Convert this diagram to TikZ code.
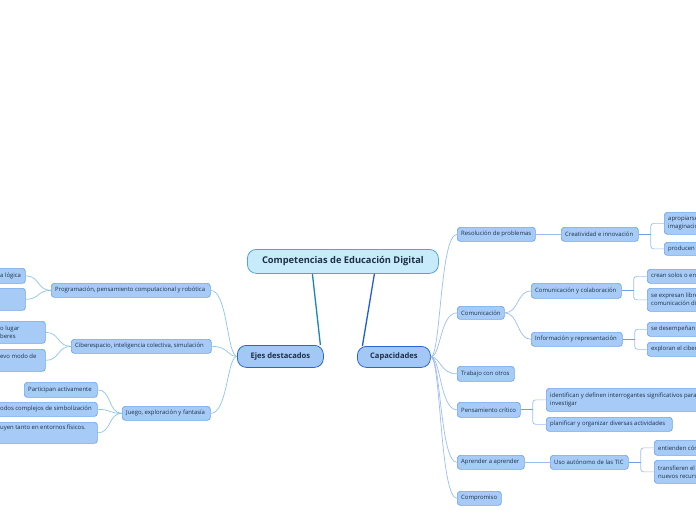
\documentclass[tikz,border=0pt]{standalone}
\usepackage{fontspec}
\setmainfont{Open Sans}
\begin{document}
\begin{tikzpicture}[x=1pt,y=-1pt,
  box/.style={draw=boxline,fill=boxfill,rounded corners=3pt,line width=0.7pt,inner sep=0pt},
  rootbox/.style={draw=rootline,fill=rootfill,rounded corners=9pt,line width=0.8pt,inner sep=0pt},
  mainbox/.style={draw=mainline,fill=mainfill,rounded corners=9pt,line width=0.8pt,inner sep=0pt},
  txt/.style={inner sep=0pt,font=\fontsize{5.95}{8}\selectfont,text=txtcol,align=left},
  lconn/.style={draw=lcol,line width=0.7pt},
  rconn/.style={draw=rcol,line width=0.7pt},
  stub/.style={draw=stubcol,line width=1.1pt},
  brk/.style={draw=rcol,line width=0.7pt,rounded corners=3pt}]
\definecolor{boxfill}{HTML}{A6CBF6}
\definecolor{boxline}{HTML}{6FA5EA}
\definecolor{rootfill}{HTML}{C8EBFC}
\definecolor{rootline}{HTML}{4DA6DA}
\definecolor{mainfill}{HTML}{A4C8F5}
\definecolor{mainline}{HTML}{2767D2}
\definecolor{txtcol}{HTML}{1D3047}
\definecolor{lcol}{HTML}{8DC6E8}
\definecolor{rcol}{HTML}{9DBEF2}
\definecolor{stubcol}{HTML}{6E9FE6}
\definecolor{tealcol}{HTML}{1A86B8}
\definecolor{bluecol}{HTML}{1F5ED6}
\newcommand\bx[7]{%
  \pgfmathsetmacro\bw{#5-#3}\pgfmathsetmacro\bh{#6-#4}%
  \node[#1,minimum width=\bw pt,minimum height=\bh pt,anchor=north west] (#2) at (#3,#4) {};%
  \node[txt,anchor=west] (#2t) at ([xshift=4pt]#2.west) {#7};}
\useasboundingbox (0,0) rectangle (696,520);
\clip (0,0) rectangle (696,520);
\fill[white] (0,0) rectangle (696,520);

% root and main nodes
\node[rootbox,minimum width=191pt,minimum height=24pt,anchor=north west] (root) at (247,249) {};
\node[font=\fontsize{9.3}{11}\selectfont\bfseries,text=txtcol,inner sep=0pt] (roott) at (root.center) {Competencias de Educación Digital};
\node[mainbox,minimum width=86pt,minimum height=22pt,anchor=north west] (ejes) at (237,345) {};
\node[font=\fontsize{7.6}{9}\selectfont\bfseries,text=txtcol,inner sep=0pt] (ejest) at (ejes.center) {Ejes destacados};
\node[mainbox,minimum width=73pt,minimum height=21pt,anchor=north west] (cap) at (357,346) {};
\node[font=\fontsize{7.6}{9}\selectfont\bfseries,text=txtcol,inner sep=0pt] (capt) at (cap.center) {Capacidades};

\draw[draw=tealcol,line width=1.3pt] ([xshift=-30.5pt]root.south) -- ([xshift=40pt]ejes.north);
\draw[draw=bluecol,line width=1.3pt] ([xshift=31.5pt]root.south) -- ([xshift=-31.5pt]cap.north);

% left side
\bx{box}{prog}{51}{283}{210}{297}{Programación, pensamiento computacional y robótica}
\bx{box}{la}{-60}{268}{25}{283}{}
\node[txt,anchor=west] (lat) at (0,275.5) {a lógica};
\bx{box}{lb}{-60}{288}{25}{310}{}
\bx{box}{cib}{71}{339}{211}{353}{Ciberespacio, inteligencia colectiva, simulación}
\bx{box}{lc}{-60}{321}{45}{343}{}
\node[txt,anchor=west] (lct) at (0,332) {o lugar\\beres};
\bx{box}{ld}{-60}{349}{45}{371}{}
\node[txt,anchor=west] (ldt) at (0,356) {evo modo de};
\bx{box}{jue}{122}{406}{210}{420}{Juego, exploración y fantasía}
\bx{box}{par}{24}{382}{97}{397}{Participan activamente}
\bx{box}{le}{-60}{402}{97}{416}{}
\node[txt,anchor=west] (let) at (0,409) {odos complejos de simbolización};
\bx{box}{lf}{-60}{422}{97}{443}{}
\node[txt,anchor=west] (lft) at (0,428) {uyen tanto en entornos físicos.};

\foreach \n in {prog,cib,jue}
  \draw[lconn] (ejes.west) .. controls ([xshift=-10pt]ejes.west) and ([xshift=17pt]\n.east|-\n.east) .. (\n.east);
\foreach \p/\c in {prog/la,prog/lb,cib/lc,cib/ld,jue/par,jue/le,jue/lf}
  \draw[lconn] (\p.west) .. controls ([xshift=-14pt]\p.west) and ([xshift=14pt]\c.east) .. (\c.east);

% right side
\bx{box}{res}{457}{227}{535}{241}{Resolución de problemas}
\bx{box}{cre}{561}{227}{638}{241}{Creatividad e innovación}
\bx{box}{apr}{664}{212}{760}{234}{apropiarse de la\\imaginación}
\bx{box}{pro}{664}{242}{760}{255}{producen}
\bx{box}{com}{457}{306}{504}{319}{Comunicación}
\bx{box}{cyc}{531}{283}{621}{298}{Comunicación y colaboración}
\bx{box}{crg}{647}{269}{760}{283}{crean solos o en grupo}
\bx{box}{sex}{647}{288}{760}{311}{se expresan libremente\\comunicación digital}
\bx{box}{inf}{531}{332}{622}{346}{Información y representación}
\bx{box}{sed}{647}{322}{760}{336}{se desempeñan}
\bx{box}{exp}{647}{342}{760}{356}{exploran el ciberespacio}
\bx{box}{tra}{457}{366}{514}{381}{Trabajo con otros}
\bx{box}{pen}{457}{402}{520}{417}{Pensamiento crítico}
\bx{box}{ide}{546}{388}{760}{411}{identifican y definen interrogantes significativos para\\investigar}
\bx{box}{pla}{546}{417}{672}{431}{planificar y organizar diversas actividades}
\bx{box}{apa}{457}{455}{524}{469}{Aprender a aprender}
\bx{box}{uso}{550}{455}{628}{469}{Uso autónomo de las TIC}
\bx{box}{ent}{654}{440}{760}{455}{entienden cómo}
\bx{box}{trf}{654}{460}{760}{483}{transfieren el conocimiento\\nuevos recursos}
\bx{box}{cmp}{457}{491}{501}{505}{Compromiso}

\foreach \n in {res,com,tra,pen,apa,cmp}
  \draw[rconn] (cap.east) .. controls ([xshift=10pt]cap.east) and ([xshift=-17pt]\n.west) .. (\n.west);
\draw[rconn] (res.east) -- (cre.west);
\draw[rconn] (apa.east) -- (uso.west);
\foreach \c in {cyc,inf}
  \draw[rconn] (com.east) .. controls ([xshift=14pt]com.east) and ([xshift=-14pt]\c.west) .. (\c.west);
\foreach \p/\c in {cre/apr,cre/pro,cyc/crg,cyc/sex,inf/sed,inf/exp,pen/ide,pen/pla,uso/ent,uso/trf}
  \draw[brk] ([xshift=12pt]\p.east) |- (\c.west);
\foreach \p in {cre,cyc,inf,pen,uso}
  \draw[stub] (\p.east) -- ([xshift=12pt]\p.east);
\end{tikzpicture}
\end{document}
